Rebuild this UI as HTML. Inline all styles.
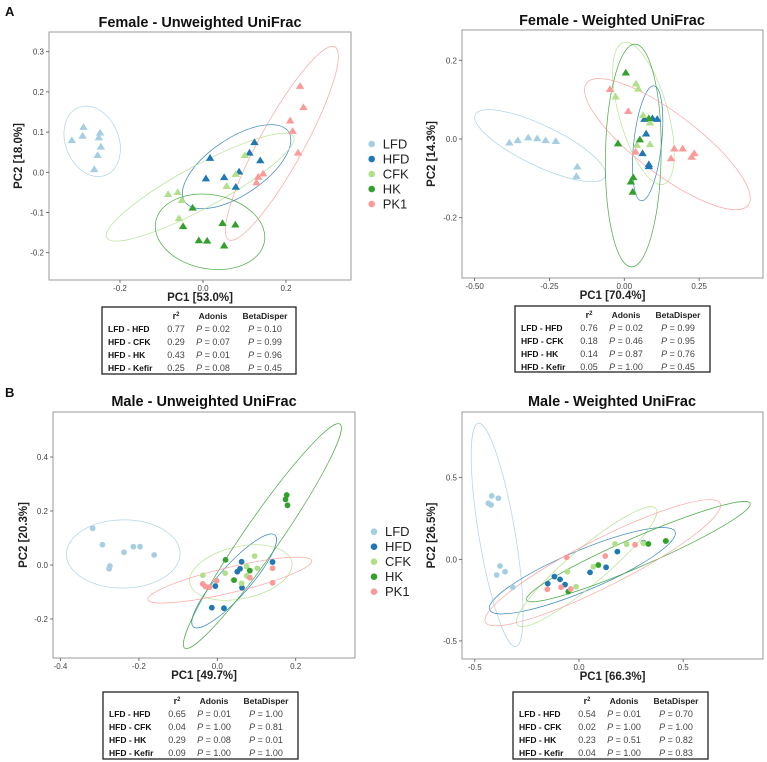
<!DOCTYPE html>
<html><head><meta charset="utf-8">
<style>
html,body{margin:0;padding:0;background:#fff;}
svg{display:block;font-family:"Liberation Sans",Arial,sans-serif;}
</style></head>
<body>
<svg id="fig" width="767" height="762" viewBox="0 0 767 762" xmlns="http://www.w3.org/2000/svg"></svg>
<script>
// ---------- DATA ----------
const groups = ["LFD","HFD","CFK","HK","PK1"];
const colors = ["#a6cee3","#1f78b4","#b2df8a","#33a02c","#fb9a99"];

// Female - Unweighted
const fuX = [[-0.316,-0.288,-0.290,-0.248,-0.251,-0.246,-0.254,-0.262],
             [0.017,0.124,0.112,0.138,0.087,0.051,0.007,0.079],
             [0.101,0.079,0.057,-0.084,-0.061,-0.051,-0.058],
             [-0.025,-0.048,0.047,0.078,-0.010,0.010,0.051],
             [0.234,0.242,0.210,0.216,0.229,0.145,0.133,0.129]];
const fuY = [[0.080,0.113,0.091,0.099,0.087,0.064,0.043,0.008],
             [0.036,0.075,0.049,0.030,0.002,-0.012,-0.015,-0.036],
             [0.043,-0.004,-0.034,-0.054,-0.049,-0.069,-0.114],
             [-0.088,-0.134,-0.126,-0.130,-0.169,-0.170,-0.182],
             [0.215,0.162,0.129,0.103,0.049,-0.003,-0.011,-0.025]];
const fuEll = [[-0.267,0.077,-0.234,-0.007,0.73],[0.081,0.014,0.206,0.101,0.45],[-0.007,-0.037,0.218,0.089,0.2],[0.017,-0.148,0.148,-0.173,0.67],[0.190,0.072,0.318,0.312,0.2]];
const fuXTicks = [-0.2,0.0,0.2];
const fuXTickLabels = ["-0.2","0.0","0.2"];
const fuYTicks = [0.3,0.2,0.1,0.0,-0.1,-0.2];
const fuYTickLabels = ["0.3","0.2","0.1","0.0","-0.1","-0.2"];

// Female - Weighted
const fwX = [[-0.384,-0.356,-0.321,-0.291,-0.263,-0.229,-0.157,-0.160],
             [0.067,0.094,0.110,0.073,0.061,0.082,0.082],
             [-0.029,0.039,0.047,0.063,0.086,0.086,0.042],
             [0.005,0.082,0.052,-0.021,0.030,0.022,0.028],
             [-0.048,0.013,0.038,0.167,0.195,0.156,0.234,0.225]];
const fwY = [[-0.009,-0.003,0.004,0.002,-0.003,-0.005,-0.070,-0.094],
             [0.051,0.053,0.051,0.014,-0.036,-0.064,-0.069],
             [0.108,0.141,0.128,0.061,0.042,-0.013,-0.015],
             [0.169,0.053,-0.001,-0.011,-0.097,-0.108,-0.134],
             [0.127,0.071,-0.032,-0.024,-0.024,-0.049,-0.036,-0.045]];
const fwEll = [[-0.281,-0.017,-0.064,-0.096,0.28],[0.078,-0.011,0.099,0.135,0.24],[0.064,0.065,-0.003,0.245,0.33],[0.030,-0.042,0.036,0.241,0.25],[0.144,-0.013,0.414,-0.168,0.3]];
const fwXTicks = [-0.5,-0.25,0,0.25];
const fwXTickLabels = ["-0.50","-0.25","0.00","0.25"];
const fwYTicks = [0.2,0.0,-0.2];
const fwYTickLabels = ["0.2","0.0","-0.2"];

// Male - Unweighted
const muX = [[-0.318,-0.293,-0.238,-0.214,-0.197,-0.161,-0.274,-0.276],
             [0.062,0.141,0.058,0.051,-0.005,0.063,0.017,-0.014],
             [-0.037,0.020,0.075,0.095,0.102,0.075,0.062,0.041],
             [0.021,0.043,0.083,0.177,0.174,0.179],
             [-0.037,-0.030,-0.020,-0.002,0.083,0.141,0.141]];
const muY = [[0.136,0.075,0.047,0.068,0.068,0.037,-0.004,-0.014],
             [0.012,0.011,-0.014,-0.025,-0.078,-0.084,-0.160,-0.158],
             [-0.038,-0.030,-0.006,0.033,-0.012,-0.040,-0.068,-0.056],
             [0.019,-0.056,-0.021,0.259,0.243,0.221],
             [-0.070,-0.080,-0.082,-0.058,-0.047,-0.012,-0.066]];
const muEll = [[-0.240,0.041,-0.095,0.043,0.6],[0.043,-0.059,0.147,0.111,0.25],[0.060,-0.028,0.190,0.012,0.5],[0.115,0.107,0.313,0.522,0.13],[0.032,-0.056,0.241,0.016,0.15]];
const muXTicks = [-0.4,-0.2,0.0,0.2];
const muXTickLabels = ["-0.4","-0.2","0.0","0.2"];
const muYTicks = [0.4,0.2,0.0,-0.2];
const muYTickLabels = ["0.4","0.2","0.0","-0.2"];

// Male - Weighted
const mwX = [[-0.419,-0.387,-0.435,-0.422,-0.379,-0.395,-0.355,-0.318],
             [-0.150,-0.118,-0.091,-0.067,0.053,0.130,0.184,0.309],
             [-0.056,-0.014,0.069,0.173,0.229,0.309],
             [-0.051,0.093,0.333,0.417,0.416],
             [-0.059,-0.152,-0.086,-0.040,0.126,0.269]];
const mwY = [[0.388,0.374,0.343,0.333,-0.041,-0.096,-0.076,-0.171],
             [-0.149,-0.106,-0.123,-0.155,-0.080,-0.049,0.047,0.102],
             [-0.076,-0.168,-0.045,0.094,0.092,0.098],
             [-0.198,-0.035,0.094,0.112,0.112],
             [0.012,-0.184,-0.171,-0.182,0.020,0.089]];
const mwEll = [[-0.393,0.149,-0.483,0.833,0.16],[0.016,-0.070,0.461,0.169,0.2],[0.037,-0.045,0.369,0.312,0.2],[0.285,0.047,0.821,0.343,0.12],[0.114,-0.021,0.677,0.343,0.18]];
const mwXTicks = [-0.5,0.0,0.5];
const mwXTickLabels = ["-0.5","0.0","0.5"];
const mwYTicks = [0.5,0.0,-0.5];
const mwYTickLabels = ["0.5","0.0","-0.5"];

// Tables
const tblRows = ["LFD - HFD","HFD - CFK","HFD - HK","HFD - Kefir"];
const fuR2 = ["0.77","0.29","0.43","0.25"], fuAd = ["0.02","0.07","0.01","0.08"], fuBd = ["0.10","0.99","0.96","0.45"];
const fwR2 = ["0.76","0.18","0.14","0.05"], fwAd = ["0.02","0.46","0.87","1.00"], fwBd = ["0.99","0.95","0.76","0.45"];
const muR2 = ["0.65","0.04","0.29","0.09"], muAd = ["0.01","1.00","0.08","1.00"], muBd = ["1.00","0.81","0.01","1.00"];
const mwR2 = ["0.54","0.02","0.23","0.04"], mwAd = ["0.01","1.00","0.51","1.00"], mwBd = ["0.70","1.00","0.82","0.83"];

// ---------- RENDER ----------
const NS = "http://www.w3.org/2000/svg";
const svg = document.getElementById("fig");
function mk(tag, attrs, parent, text){
  const e = document.createElementNS(NS, tag);
  for (const k in attrs) e.setAttribute(k, attrs[k]);
  if (text !== undefined) e.textContent = text;
  (parent || svg).appendChild(e);
  return e;
}

const panels = [
  {id:"female-unweighted", title:"Female - Unweighted UniFrac", tx:200, ty:27, box:[49,32,351,280],
   xp0:203, xk:415, yp0:172.3, yk:402, X:fuX, Y:fuY, E:fuEll, xt:fuXTicks, xtl:fuXTickLabels, yt:fuYTicks, ytl:fuYTickLabels,
   xlab:"PC1  [53.0%]", ylab:"PC2  [18.0%]", ylx:22, shape:"tri",
   tb:[102,307,296,374], r2:fuR2, ad:fuAd, bd:fuBd},
  {id:"female-weighted", title:"Female - Weighted UniFrac", tx:612, ty:25, box:[462,30,763,278],
   xp0:624.3, xk:299.3, yp0:139, yk:393.5, X:fwX, Y:fwY, E:fwEll, xt:fwXTicks, xtl:fwXTickLabels, yt:fwYTicks, ytl:fwYTickLabels,
   xlab:"PC1  [70.4%]", ylab:"PC2  [14.3%]", ylx:435, shape:"tri",
   tb:[515,306,710,372], r2:fwR2, ad:fwAd, bd:fwBd},
  {id:"male-unweighted", title:"Male - Unweighted UniFrac", tx:204, ty:406, box:[53,412,355,658],
   xp0:217.3, xk:392, yp0:565, yk:270, X:muX, Y:muY, E:muEll, xt:muXTicks, xtl:muXTickLabels, yt:muYTicks, ytl:muYTickLabels,
   xlab:"PC1  [49.7%]", ylab:"PC2  [20.3%]", ylx:27, shape:"dot",
   tb:[103,692,298,759], r2:muR2, ad:muAd, bd:muBd},
  {id:"male-weighted", title:"Male - Weighted UniFrac", tx:612, ty:406, box:[462,412,763,659],
   xp0:579, xk:208.4, yp0:559.3, yk:163.3, X:mwX, Y:mwY, E:mwEll, xt:mwXTicks, xtl:mwXTickLabels, yt:mwYTicks, ytl:mwYTickLabels,
   xlab:"PC1  [66.3%]", ylab:"PC2  [26.5%]", ylx:435, shape:"dot",
   tb:[513,692,708,759], r2:mwR2, ad:mwAd, bd:mwBd}
];

panels.forEach((p, pi) => {
  const g = mk("g", {});
  
  
  const sx = v => p.xp0 + v * p.xk;
  const sy = v => p.yp0 - v * p.yk;
  const [l,t,r,b] = p.box;
  const tt = mk("text", {x:p.tx, y:p.ty, "text-anchor":"middle", "font-size":"14.5", "font-weight":"bold", fill:"#111"}, g, p.title);
  
  
  const rect = mk("rect", {x:l, y:t, width:r-l, height:b-t, fill:"#fff", stroke:"#9a9a9a", "stroke-width":"1"}, g);
  
  
  p.xt.forEach((v, i) => {
    const tk = mk("line", {x1:sx(v), x2:sx(v), y1:b, y2:b+3, stroke:"#555", "stroke-width":"0.8"}, g);
    
    
    const tl = mk("text", {x:sx(v), y:b+11, "text-anchor":"middle", "font-size":"8", fill:"#444"}, g, p.xtl[i]);
    
    
  });
  p.yt.forEach((v, i) => {
    const tk = mk("line", {x1:l-3, x2:l, y1:sy(v), y2:sy(v), stroke:"#555", "stroke-width":"0.8"}, g);
    
    
    const tl = mk("text", {x:l-5, y:sy(v)+3, "text-anchor":"end", "font-size":"8", fill:"#444"}, g, p.ytl[i]);
    
    
  });
  const xl = mk("text", {x:(l+r)/2, y:b+21, "text-anchor":"middle", "font-size":"11.5", "font-weight":"bold", fill:"#222"}, g, p.xlab);
  
  
  const cy = (t+b)/2;
  const yl = mk("text", {x:p.ylx, y:cy, "text-anchor":"middle", "font-size":"11.5", "font-weight":"bold", fill:"#222", transform:"rotate(-90 "+p.ylx+" "+cy+")"}, g, p.ylab);
  
  
  const cp = mk("clipPath", {id:"clip"+pi}, g);
  mk("rect", {x:l, y:t, width:r-l, height:b-t}, cp);
  const plot = mk("g", {"clip-path":"url(#clip"+pi+")"}, g);
  p.E.forEach((e, gi) => {
    const cxp = sx(e[0]), cyp = sy(e[1]), txp = sx(e[2]), typ = sy(e[3]);
    const dx = txp - cxp, dy = typ - cyp;
    const a = Math.hypot(dx, dy), ang = Math.atan2(dy, dx) * 180 / Math.PI;
    const el = mk("ellipse", {cx:cxp, cy:cyp, rx:a, ry:a*e[4], fill:"none", stroke:colors[gi], "stroke-width":"0.75", "stroke-opacity":"0.85",
      transform:"rotate("+ang+" "+cxp+" "+cyp+")"}, plot);
    
    
  });
  p.X.forEach((xs, gi) => {
    xs.forEach((xv, k) => {
      const px = sx(xv), py = sy(p.Y[gi][k]);
      let m;
      if (p.shape === "tri") {
        m = mk("polygon", {points:(px)+","+(py-3.8)+" "+(px-4.2)+","+(py+3)+" "+(px+4.2)+","+(py+3), fill:colors[gi]}, plot);
      } else {
        m = mk("circle", {cx:px, cy:py, r:2.9, fill:colors[gi]}, plot);
      }
      
      
    });
  });
  const [tl0, tt0, tr0, tb0] = p.tb;
  const tg = mk("g", {}, g);
  
  
  mk("rect", {x:tl0, y:tt0, width:tr0-tl0, height:tb0-tt0, fill:"#fff", stroke:"#222", "stroke-width":"1.3"}, tg);
  const hy = tt0 + 12;
  const r2h = mk("text", {x:tl0+74, y:hy, "text-anchor":"middle", "font-size":"9", "font-weight":"bold", fill:"#222"}, tg, "r");
  
  
  mk("tspan", {dy:"-3", "font-size":"6"}, r2h, "2");
  const adh = mk("text", {x:tl0+111, y:hy, "text-anchor":"middle", "font-size":"8.5", "font-weight":"bold", fill:"#222"}, tg, "Adonis");
  
  
  const bdh = mk("text", {x:tl0+163, y:hy, "text-anchor":"middle", "font-size":"8.5", "font-weight":"bold", fill:"#222"}, tg, "BetaDisper");
  
  
  tblRows.forEach((rn, i) => {
    const ry = tt0 + 25 + i * 13;
    const a1 = mk("text", {x:tl0+6, y:ry, "font-size":"8.5", "font-weight":"bold", fill:"#111"}, tg, rn);
    
    
    const a2 = mk("text", {x:tl0+74, y:ry, "text-anchor":"middle", "font-size":"9", fill:"#444"}, tg, p.r2[i]);
    
    
    const a3 = mk("text", {x:tl0+111, y:ry, "text-anchor":"middle", "font-size":"9", fill:"#444"}, tg);
    
    
    mk("tspan", {"font-style":"italic"}, a3, "P");
    mk("tspan", {}, a3, " = " + p.ad[i]);
    const a4 = mk("text", {x:tl0+163, y:ry, "text-anchor":"middle", "font-size":"9", fill:"#444"}, tg);
    
    
    mk("tspan", {"font-style":"italic"}, a4, "P");
    mk("tspan", {}, a4, " = " + p.bd[i]);
  });
});

const la = mk("text", {x:5, y:16, "font-size":"13", "font-weight":"bold", fill:"#111"}, svg, "A");


const lb = mk("text", {x:5, y:397, "font-size":"13", "font-weight":"bold", fill:"#111"}, svg, "B");



const legendTops = [144, 531.7];
const legendDotX = [371.7, 374];
const legendStep = [15, 15];
legendTops.forEach((top, li) => {
  const lg = mk("g", {});
  
  
  groups.forEach((gname, gi) => {
    const yy = top + gi * legendStep[li];
    const d = mk("circle", {cx:legendDotX[li], cy:yy, r:3.3, fill:colors[gi]}, lg);
    
    
    const tx = mk("text", {x:legendDotX[li]+11, y:yy+4.5, "font-size":"13", fill:"#222"}, lg, gname);
    
    
  });
});
</script>
</body></html>
